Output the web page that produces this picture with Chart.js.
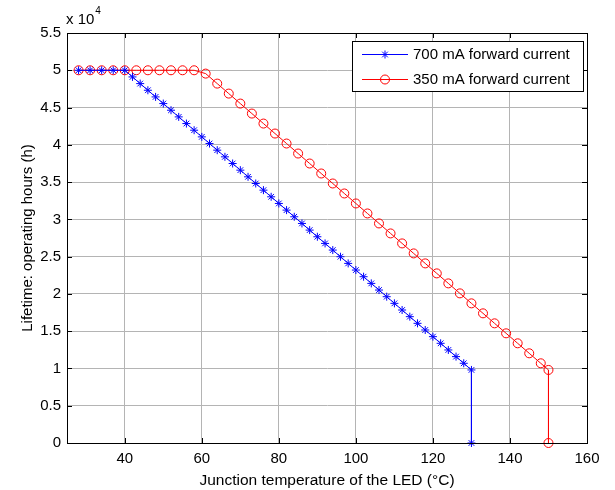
<!DOCTYPE html>
<html>
<head>
<meta charset="utf-8">
<script src="https://cdn.jsdelivr.net/npm/chart.js@4/dist/chart.umd.min.js"></script>
<style>
  html, body { margin: 0; padding: 0; background: #fff; }
  #wrap { width: 615px; height: 490px; }
</style>
</head>
<body>
<div id="wrap"><canvas id="life-chart" width="615" height="490"></canvas></div>
<script>
// 700 mA forward current (blue, asterisks)
const blueX = [28, 31, 34, 37, 40, 42, 44, 46, 48, 50, 52, 54, 56, 58, 60, 62, 64, 66, 68, 70,
  72, 74, 76, 78, 80, 82, 84, 86, 88, 90, 92, 94, 96, 98, 100, 102, 104, 106, 108, 110,
  112, 114, 116, 118, 120, 122, 124, 126, 128, 130, 130];
const blueY = [50000, 50000, 50000, 50000, 50000, 49107, 48213, 47320, 46427, 45533, 44640, 43747,
  42853, 41960, 41067, 40173, 39280, 38387, 37493, 36600, 35707, 34813, 33920, 33027, 32133,
  31240, 30347, 29453, 28560, 27667, 26773, 25880, 24987, 24093, 23200, 22307, 21413, 20520,
  19627, 18733, 17840, 16947, 16053, 15160, 14267, 13373, 12480, 11587, 10693, 9800, 0];

// 350 mA forward current (red, circles)
const redX = [28, 31, 34, 37, 40, 43, 46, 49, 52, 55, 58, 61, 64, 67, 70, 73, 76, 79, 82, 85,
  88, 91, 94, 97, 100, 103, 106, 109, 112, 115, 118, 121, 124, 127, 130, 133, 136, 139, 142,
  145, 148, 150, 150];
const redY = [50000, 50000, 50000, 50000, 50000, 50000, 50000, 50000, 50000, 50000, 50000, 49553,
  48213, 46873, 45533, 44193, 42853, 41513, 40173, 38833, 37493, 36153, 34813, 33473, 32133,
  30793, 29453, 28113, 26773, 25433, 24093, 22753, 21413, 20073, 18733, 17393, 16053, 14713,
  13373, 12033, 10693, 9800, 0];

const xTicks = [40, 60, 80, 100, 120, 140, 160];
const seriesLabels = ["700 mA forward current", "350 mA forward current"];

const FONT = "'Liberation Sans', Arial, sans-serif";

function toPoints(xs, ys) {
  return xs.map((x, i) => ({ x: x, y: ys[i] }));
}

// box, inward ticks, exponent label and legend drawn on the canvas
const matlabFrame = {
  id: "matlabFrame",
  afterDraw(chart) {
    const ctx = chart.ctx;
    const a = chart.chartArea;
    const xs = chart.scales.x, ys = chart.scales.y;
    ctx.save();
    ctx.strokeStyle = "#000";
    ctx.lineWidth = 1;
    ctx.strokeRect(Math.round(a.left) + 0.5, Math.round(a.top) + 0.5,
      Math.round(a.right - a.left), Math.round(a.bottom - a.top));
    ctx.beginPath();
    xTicks.forEach((v) => {
      const px = Math.round(xs.getPixelForValue(v)) + 0.5;
      ctx.moveTo(px, a.bottom); ctx.lineTo(px, a.bottom - 5);
      ctx.moveTo(px, a.top); ctx.lineTo(px, a.top + 5);
    });
    ys.ticks.forEach((t) => {
      const py = Math.round(ys.getPixelForValue(t.value)) + 0.5;
      ctx.moveTo(a.left, py); ctx.lineTo(a.left + 5, py);
      ctx.moveTo(a.right, py); ctx.lineTo(a.right - 5, py);
    });
    ctx.stroke();

    // x 10^4
    ctx.fillStyle = "#000";
    ctx.textBaseline = "alphabetic";
    ctx.textAlign = "left";
    ctx.font = "15px " + FONT;
    ctx.fillText("x 10", a.left - 1, a.top - 9);
    const w = ctx.measureText("x 10").width;
    ctx.font = "10px " + FONT;
    ctx.fillText("4", a.left - 1 + w + 1, a.top - 19);

    // legend
    const bw = 231, bh = 50;
    const bx = Math.round(a.right) - 4 - bw, by = Math.round(a.top) + 8;
    ctx.fillStyle = "#fff";
    ctx.fillRect(bx, by, bw, bh);
    ctx.strokeStyle = "#000";
    ctx.strokeRect(bx + 0.5, by + 0.5, bw, bh);
    ctx.font = "15px " + FONT;
    ctx.textBaseline = "middle";
    chart.data.datasets.forEach((ds, i) => {
      const cy = by + 13 + i * 25;
      ctx.strokeStyle = ds.borderColor;
      ctx.lineWidth = 1;
      ctx.beginPath();
      ctx.moveTo(bx + 10, cy + 0.5); ctx.lineTo(bx + 56, cy + 0.5);
      ctx.stroke();
      ctx.fillStyle = "rgba(0,0,0,0)";
      Chart.helpers.drawPoint(ctx, {
        pointStyle: ds.pointStyle, radius: ds.pointRadius, borderWidth: 1, rotation: 0
      }, bx + 33, cy + 0.5);
      ctx.fillStyle = "#000";
      ctx.fillText(seriesLabels[i], bx + 61, cy + 1);
    });
    ctx.restore();
  }
};

const ctx = document.getElementById("life-chart").getContext("2d");
const lifeChart = new Chart(ctx, {
  type: "line",
  data: {
    datasets: [
      {
        label: seriesLabels[0],
        data: toPoints(blueX, blueY),
        borderColor: "#0000ff",
        backgroundColor: "rgba(0,0,0,0)",
        borderWidth: 1,
        pointStyle: "star",
        pointRadius: 4,
        pointBorderWidth: 1,
        pointBorderColor: "#0000ff",
        tension: 0,
        clip: false,
      },
      {
        label: seriesLabels[1],
        data: toPoints(redX, redY),
        borderColor: "#ff0000",
        backgroundColor: "rgba(0,0,0,0)",
        borderWidth: 1,
        pointStyle: "circle",
        pointRadius: 4.5,
        pointBorderWidth: 1,
        pointBorderColor: "#ff0000",
        tension: 0,
        clip: false,
      },
    ],
  },
  options: {
    responsive: false,
    animation: false,
    events: [],
    layout: { padding: { left: 19, right: 28, top: 33, bottom: 0 } },
    plugins: { legend: { display: false }, tooltip: { enabled: false } },
    scales: {
      x: {
        type: "linear",
        min: 25,
        max: 160,
        afterBuildTicks: (scale) => { scale.ticks = xTicks.map((v) => ({ value: v })); },
        afterFit: (scale) => { scale.height = 47; },
        grid: { color: "#b4b4b4", drawTicks: false },
        border: { color: "#000" },
        ticks: { color: "#000", padding: 7, maxRotation: 0, font: { family: FONT, size: 15 } },
        title: { display: true, text: "Junction temperature of the LED (°C)", color: "#000",
          padding: { top: 1, bottom: 0 }, font: { family: FONT, size: 15.5 } },
      },
      y: {
        min: 0,
        max: 55000,
        afterFit: (scale) => { scale.width = 48; },
        grid: { color: "#b4b4b4", drawTicks: false },
        border: { color: "#000" },
        ticks: { stepSize: 5000, color: "#000", padding: 6, font: { family: FONT, size: 15 },
          callback: (v) => String(v / 10000) },
        title: { display: true, text: "Lifetime: operating hours (h)", color: "#000",
          padding: { top: 0, bottom: 2 }, font: { family: FONT, size: 15 } },
      },
    },
  },
  plugins: [matlabFrame],
});
</script>
</body>
</html>
